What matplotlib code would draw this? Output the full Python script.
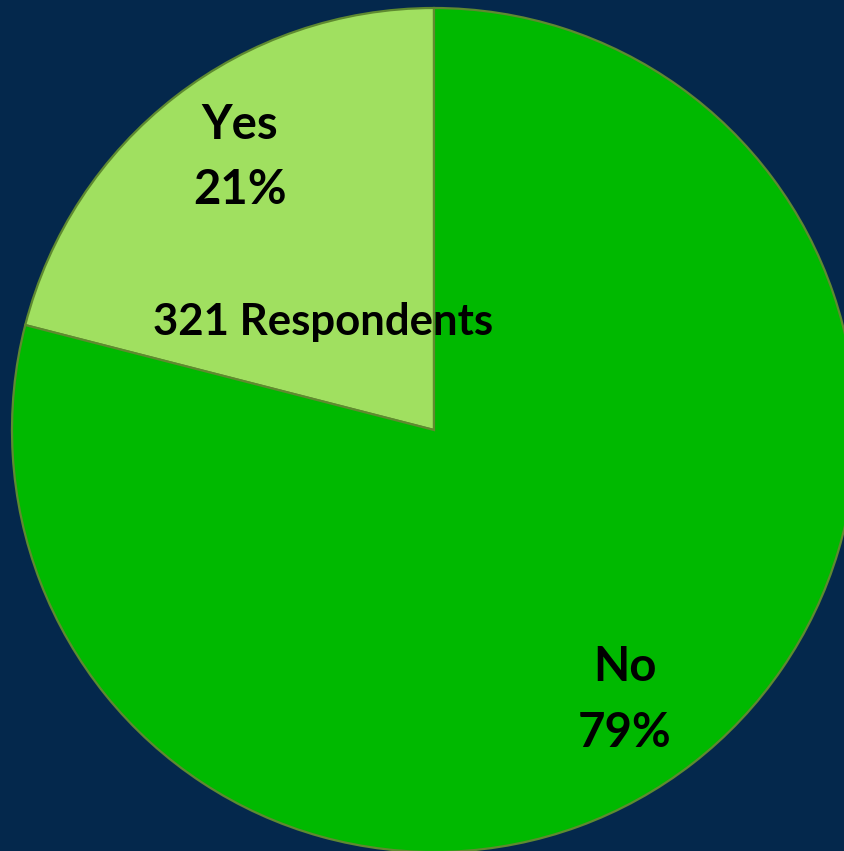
import matplotlib.pyplot as plt

# Survey answers
labels = ["Yes", "No"]
shares = [21, 79]
respondents = 321

colors = ["#a0e060", "#00b900"]

fig = plt.figure(figsize=(8.44, 8.51), dpi=100)
fig.patch.set_facecolor("#04284c")
ax = fig.add_axes([0, 0, 1, 1])
ax.set_facecolor("#04284c")

# pie centred at (434, 430) from top-left, radius ~422, cropped on right/bottom
ax.pie(shares, colors=colors, startangle=90, counterclock=True,
       center=(434, 851 - 430), radius=422, frame=True,
       wedgeprops=dict(edgecolor="#5f8a30", linewidth=1.6))
ax.set_xlim(0, 844)
ax.set_ylim(0, 851)
ax.set_aspect("equal")
ax.axis("off")

font = dict(family=["Lato", "DejaVu Sans"], fontweight="bold", color="black",
            ha="center", va="center")

# labels
ax.text(240, 851 - 125, labels[0], fontsize=34, **font)
ax.text(240, 851 - 190, f"{shares[0]}%", fontsize=34, **font)
ax.text(625, 851 - 667, labels[1], fontsize=34, **font)
ax.text(625, 851 - 733, f"{shares[1]}%", fontsize=34, **font)
ax.text(323, 851 - 322, f"{respondents} Respondents", fontsize=31.5, **font)

fig.savefig("out.png", dpi=100, facecolor=fig.get_facecolor())
